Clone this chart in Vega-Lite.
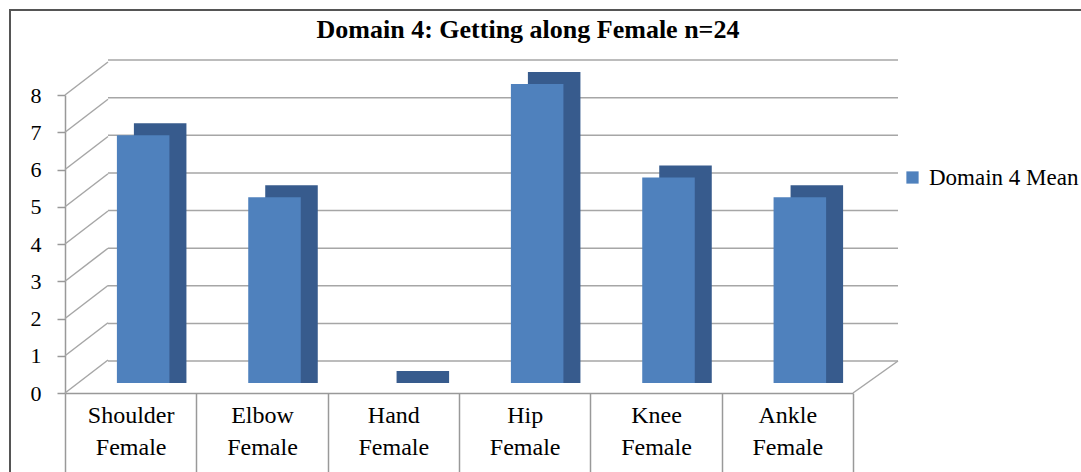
{
  "$schema": "https://vega.github.io/schema/vega-lite/v6.json",
  "width": 1090,
  "height": 480,
  "autosize": {"type": "none"},
  "padding": {"left": 10, "top": 10, "right": 0, "bottom": 0},
  "background": "white",
  "config": {
    "view": {"stroke": "#555555", "strokeWidth": 2},
    "font": "Liberation Serif",
    "axis": {"grid": false, "labelFont": "Liberation Serif"},
    "legend": {"labelFont": "Liberation Serif"},
    "title": {"font": "Liberation Serif"}
  },
  "title": {
    "text": "Domain 4: Getting along Female n=24",
    "font": "Liberation Serif",
    "fontSize": 26,
    "fontWeight": "bold",
    "color": "#000000",
    "anchor": "middle",
    "frame": "group",
    "dx": -27,
    "offset": -33
  },
  "datasets": {
    "bars": [
      {"joint": "Shoulder Female", "mean": 6.63},
      {"joint": "Elbow Female", "mean": 4.97},
      {"joint": "Hand Female", "mean": 0},
      {"joint": "Hip Female", "mean": 8.0},
      {"joint": "Knee Female", "mean": 5.5},
      {"joint": "Ankle Female", "mean": 4.97}
    ],
    "levels": [
      {"v": 0}, {"v": 1}, {"v": 2}, {"v": 3}, {"v": 4}, {"v": 5}, {"v": 6}, {"v": 7}, {"v": 8}
    ]
  },
  "layer": [
    {
      "data": {"name": "levels"},
      "mark": {"type": "rule", "color": "#a6a6a6", "strokeWidth": 1.5},
      "encoding": {
        "x": {"datum": 0, "type": "quantitative", "scale": {"domain": [0, 1], "range": [98, 888]}, "axis": null},
        "x2": {"datum": 1},
        "y": {"field": "v", "type": "quantitative", "scale": {"domain": [0, 8], "range": [351, 50]}, "axis": null}
      }
    },
    {
      "data": {"name": "levels"},
      "mark": {"type": "rule", "color": "#a6a6a6", "strokeWidth": 1.5, "y2Offset": -33},
      "encoding": {
        "x": {"datum": 0, "type": "quantitative", "scale": {"domain": [0, 1], "range": [55, 98]}, "axis": null},
        "x2": {"datum": 1},
        "y": {
          "field": "v", "type": "quantitative",
          "scale": {"domain": [0, 8], "range": [383, 85]},
          "axis": {
            "orient": "left", "offset": -55, "values": [0, 1, 2, 3, 4, 5, 6, 7, 8],
            "title": null, "domainColor": "#999999", "domainWidth": 1.5,
            "tickColor": "#999999", "tickWidth": 1.5, "tickSize": 8,
            "labelFont": "Liberation Serif", "labelFontSize": 22, "labelColor": "#000000",
            "labelPadding": 16
          }
        },
        "y2": {"field": "v"}
      }
    },
    {
      "data": {"name": "levels"},
      "transform": [{"filter": "datum.v == 0"}],
      "mark": {"type": "rule", "color": "#a6a6a6", "strokeWidth": 1.5, "y2Offset": -32},
      "encoding": {
        "x": {"datum": 0, "type": "quantitative", "scale": {"domain": [0, 1], "range": [843, 888]}, "axis": null},
        "x2": {"datum": 1},
        "y": {"field": "v", "type": "quantitative", "scale": {"domain": [0, 8], "range": [383, 85]}, "axis": null},
        "y2": {"field": "v"}
      }
    },
    {
      "data": {"name": "bars"},
      "mark": {"type": "bar", "color": "#375b8d", "width": {"band": 0.4}, "xOffset": 29.5},
      "encoding": {
        "x": {"field": "joint", "type": "nominal", "sort": null, "scale": {"range": [55, 843], "paddingInner": 0, "paddingOuter": 0}, "axis": null},
        "y": {"field": "mean", "type": "quantitative", "scale": {"domain": [0, 8], "range": [361, 62], "zero": false, "nice": false}, "axis": null},
        "y2": {"datum": -0.321}
      }
    },
    {
      "data": {"name": "bars"},
      "mark": {"type": "bar", "width": {"band": 0.4}, "xOffset": 12.5},
      "encoding": {
        "x": {
          "field": "joint", "type": "nominal", "sort": null,
          "scale": {"range": [55, 843], "paddingInner": 0, "paddingOuter": 0},
          "axis": {
            "orient": "bottom", "offset": -97, "title": null,
            "labelExpr": "split(datum.label, ' ')", "labelAngle": 0,
            "labelFont": "Liberation Serif", "labelFontSize": 24, "labelColor": "#000000",
            "labelLineHeight": 32, "labelPadding": -80,
            "tickBand": "extent", "tickSize": 90, "tickColor": "#999999", "tickWidth": 1.5,
            "domainColor": "#999999", "domainWidth": 1.5
          }
        },
        "y": {"field": "mean", "type": "quantitative", "scale": {"domain": [0, 8], "range": [373, 74]}, "axis": null},
        "color": {
          "datum": "Domain 4 Mean",
          "scale": {"range": ["#4f81bd"]},
          "legend": {
            "title": null, "orient": "none", "legendX": 891, "legendY": 156,
            "symbolType": "square", "symbolSize": 150, "symbolStrokeWidth": 0,
            "labelFont": "Liberation Serif", "labelFontSize": 23, "labelColor": "#000000",
            "labelOffset": 5, "padding": 0, "labelLimit": 300
          }
        }
      }
    }
  ],
  "resolve": {"scale": {"x": "independent", "y": "independent", "color": "independent"}}
}
